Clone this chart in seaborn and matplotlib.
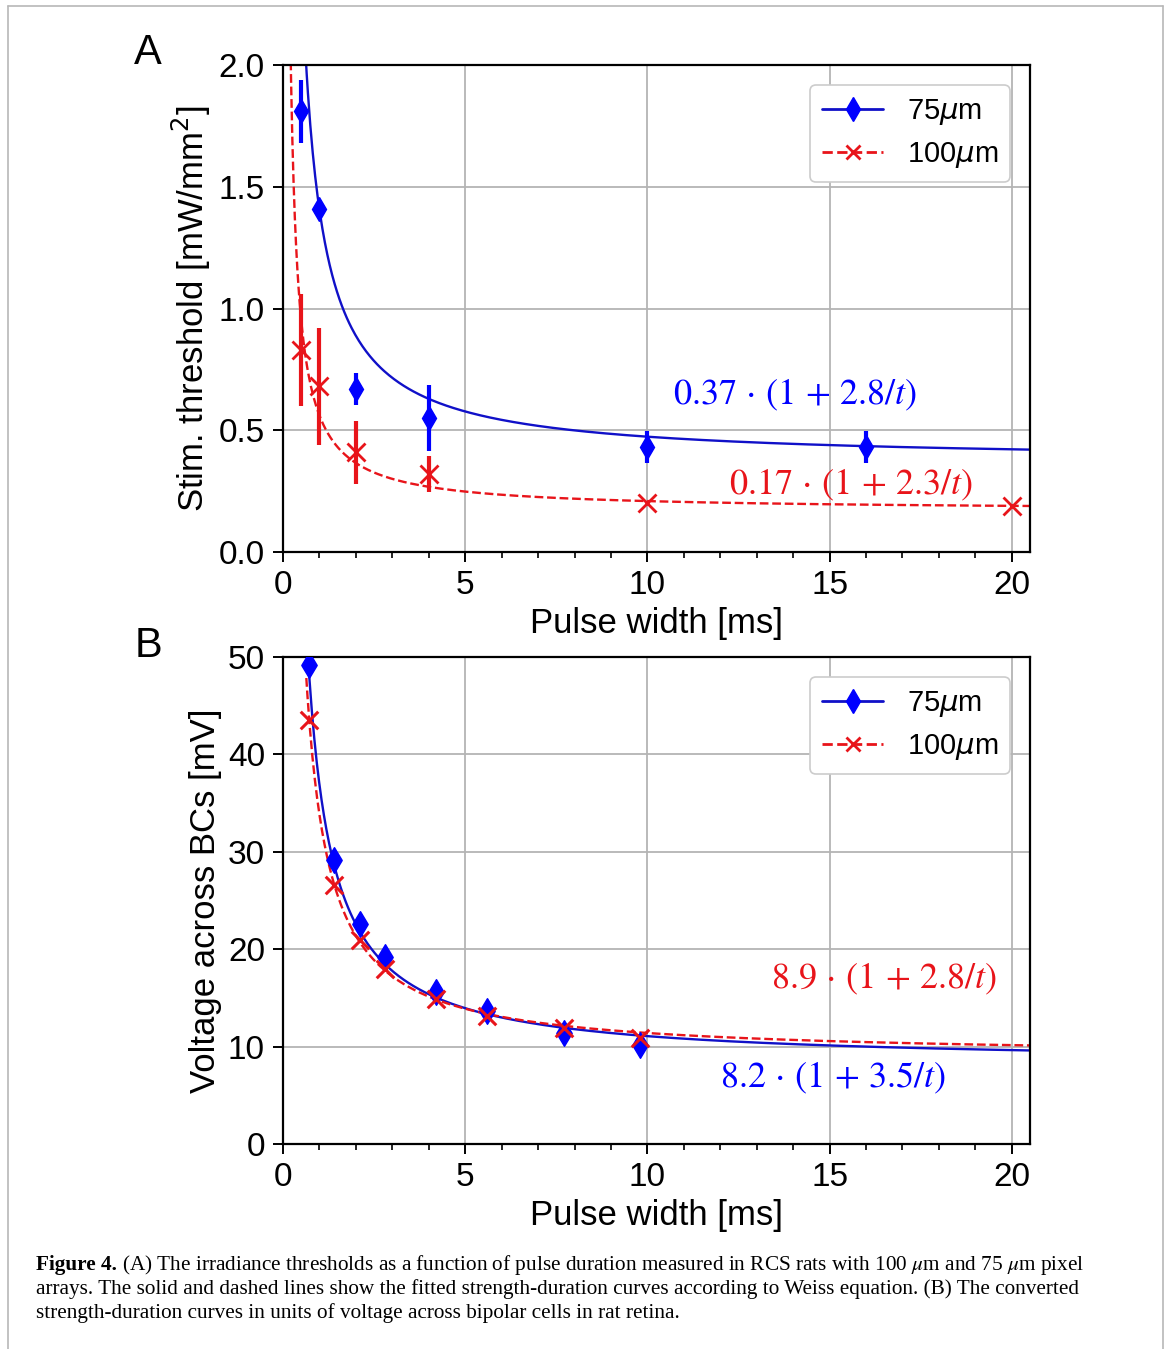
import numpy as np
import pandas as pd
import matplotlib
matplotlib.use("Agg")
import matplotlib.pyplot as plt
import seaborn as sns
from matplotlib.lines import Line2D

# Panel A: irradiance thresholds (mW/mm^2)
t_75_a = [0.5, 1, 2, 4, 10, 16]
thr_75 = [1.81, 1.41, 0.67, 0.55, 0.43, 0.43]
err_75 = [0.13, 0.0, 0.065, 0.135, 0.065, 0.065]
t_100_a = [0.5, 1, 2, 4, 10, 20]
thr_100 = [0.83, 0.68, 0.41, 0.32, 0.20, 0.19]
err_100 = [0.23, 0.24, 0.13, 0.075, 0.0, 0.0]

# Panel B: voltage across bipolar cells (mV)
t_b = [0.7, 1.4, 2.1, 2.8, 4.2, 5.6, 7.7, 9.8]
volt_75 = [49.2, 29.2, 22.6, 19.2, 15.6, 13.6, 11.4, 10.2]
volt_100 = [43.5, 26.6, 20.9, 18.0, 14.9, 13.1, 11.9, 10.9]

# Weiss fits: a * (1 + c / t)
fit_a_75 = (0.37, 2.8)
fit_a_100 = (0.17, 2.3)
fit_b_75 = (8.2, 3.5)
fit_b_100 = (8.9, 2.8)

BLUE = "#0000ff"
BLUE_LINE = "#1010c8"
RED = "#e8141a"

sns.set_style("white")
plt.rcParams["font.family"] = ["Liberation Sans", "DejaVu Sans"]
plt.rcParams["text.color"] = "black"
plt.rcParams["axes.labelcolor"] = "black"
plt.rcParams["xtick.color"] = "black"
plt.rcParams["ytick.color"] = "black"

fig = plt.figure(figsize=(11.67, 13.49), dpi=100)
axA = fig.add_axes([0.2425, 0.5908, 0.6401, 0.3610])
axB = fig.add_axes([0.2425, 0.1520, 0.6401, 0.3610])


def weiss_curve(fit, t0):
    t = np.linspace(t0, 20.5, 600)
    return pd.DataFrame({"t": t, "v": fit[0] * (1 + fit[1] / t)})


def style_axes(ax, ylim, yticks):
    ax.set_xlim(0, 20.5)
    ax.set_ylim(*ylim)
    ax.set_xticks([0, 5, 10, 15, 20])
    ax.set_xticks(np.arange(0, 21, 1), minor=True)
    ax.set_yticks(yticks)
    ax.grid(True, which="major", color="#b4b4b4", linewidth=1.3)
    ax.set_axisbelow(True)
    for s in ax.spines.values():
        s.set_color("black")
        s.set_linewidth(1.6)
    ax.tick_params(axis="both", which="major", labelsize=24, length=7,
                   width=1.4, direction="out", color="black", pad=6,
                   bottom=True, left=True)
    ax.tick_params(axis="x", which="minor", length=4, width=1.2,
                   direction="out", bottom=True)
    ax.set_xlabel("Pulse width [ms]", fontsize=25, labelpad=4)


def legend(ax):
    h = [Line2D([], [], color=BLUE_LINE, lw=2, marker="d", ms=12,
                mfc=BLUE, mec=BLUE),
         Line2D([], [], color=RED, lw=2, ls="--", marker="x", ms=10, mew=2)]
    lg = ax.legend(h, [r"75$\mu$m", r"100$\mu$m"], loc="upper right",
                   fontsize=21, handlelength=2.1, borderaxespad=0.7,
                   labelspacing=0.45, framealpha=1, edgecolor="#cccccc",
                   fancybox=True)
    lg.get_frame().set_linewidth(1.2)


def fit_label(ax, x, y, text, color):
    ax.text(x, y, text, color=color, fontsize=26, ha="center", va="center",
            math_fontfamily="stix")


# ---- Panel A ----
sns.lineplot(data=weiss_curve(fit_a_75, 0.55), x="t", y="v", ax=axA,
             color=BLUE_LINE, lw=1.7)
sns.lineplot(data=weiss_curve(fit_a_100, 0.12), x="t", y="v", ax=axA,
             color=RED, lw=1.7, linestyle="--")
axA.errorbar(t_75_a, thr_75, yerr=err_75, fmt="d", color=BLUE, ms=12,
             elinewidth=3, capsize=0, zorder=5)
axA.errorbar(t_100_a, thr_100, yerr=err_100, fmt="x", color=RED, ms=13,
             mew=2, elinewidth=3, capsize=0, zorder=5)
style_axes(axA, (0, 2.0), [0, 0.5, 1.0, 1.5, 2.0])
axA.set_yticklabels(["0.0", "0.5", "1.0", "1.5", "2.0"])
axA.set_ylabel("Stim. threshold [mW/mm$^2$]", fontsize=25, labelpad=4)
legend(axA)
fit_label(axA, 14.05, 0.645, r"$0.37\,\cdot\,(1\,+\,2.8/t)$", BLUE)
fit_label(axA, 15.6, 0.275, r"$0.17\,\cdot\,(1\,+\,2.3/t)$", RED)

# ---- Panel B ----
sns.lineplot(data=weiss_curve(fit_b_75, 0.66), x="t", y="v", ax=axB,
             color=BLUE_LINE, lw=1.7)
sns.lineplot(data=weiss_curve(fit_b_100, 0.64), x="t", y="v", ax=axB,
             color=RED, lw=1.7, linestyle="--")
sns.scatterplot(x=t_b, y=volt_75, ax=axB, marker="d", s=170, color=BLUE,
                edgecolor=BLUE, zorder=5)
sns.scatterplot(x=t_b, y=volt_100, ax=axB, marker="x", s=160, color=RED,
                linewidth=2.2, zorder=6)
style_axes(axB, (0, 50), [0, 10, 20, 30, 40, 50])
axB.set_ylabel("Voltage across BCs [mV]", fontsize=25, labelpad=4)
legend(axB)
fit_label(axB, 16.5, 16.9, r"$8.9\,\cdot\,(1\,+\,2.8/t)$", RED)
fit_label(axB, 15.1, 6.8, r"$8.2\,\cdot\,(1\,+\,3.5/t)$", BLUE)

# panel letters
fig.text(0.127, 0.961, "A", fontsize=30, ha="center", va="center")
fig.text(0.127, 0.521, "B", fontsize=30, ha="center", va="center")

# page frame
fig.add_artist(Line2D([0.0069, 0.0069], [0, 0.9956], color="#b8b8b8", lw=1.2))
fig.add_artist(Line2D([0.0069, 0.9966], [0.9956, 0.9956], color="#b8b8b8", lw=1.2))
fig.add_artist(Line2D([0.9966, 0.9966], [0, 0.9956], color="#b8b8b8", lw=1.2))

# caption
cap_lines = [
    r"(A) The irradiance thresholds as a function of pulse duration measured in RCS rats with 100 $\mu$m and 75 $\mu$m pixel",
    "arrays. The solid and dashed lines show the fitted strength-duration curves according to Weiss equation. (B) The converted",
    "strength-duration curves in units of voltage across bipolar cells in rat retina.",
]
cap_y = [0.0623, 0.0445, 0.0267]
serif = ["Liberation Serif", "DejaVu Serif"]
cap_size = 15.3
fig.canvas.draw()
r = fig.canvas.get_renderer()
bold = fig.text(0.031, cap_y[0], "Figure 4.", fontsize=cap_size, family=serif,
                weight="bold", va="center")
bb = bold.get_window_extent(renderer=r)
x_after = (bb.x1 + 5) / fig.bbox.width
fig.text(x_after, cap_y[0], cap_lines[0], fontsize=cap_size, family=serif,
         va="center", math_fontfamily="stix")
for line, y in zip(cap_lines[1:], cap_y[1:]):
    fig.text(0.031, y, line, fontsize=cap_size, family=serif, va="center")

fig.savefig("out.png", dpi=100)
